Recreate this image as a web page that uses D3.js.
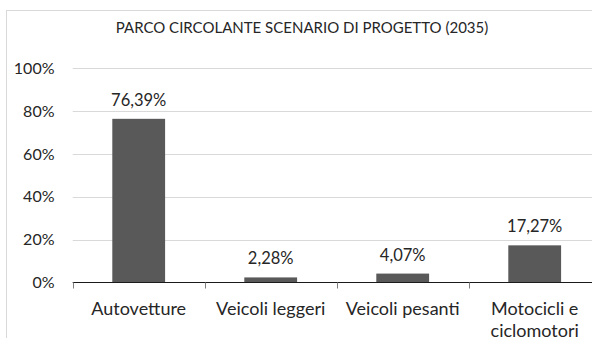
<!DOCTYPE html>
<html>
<head>
<meta charset="utf-8">
<script src="https://cdn.jsdelivr.net/npm/d3@7"></script>
<style>
  html, body { margin: 0; padding: 0; background: #fff; }
  svg { display: block; }
  text { font-family: Lato, "Open Sans", sans-serif; fill: #262626; }
</style>
</head>
<body>
<svg id="chart" width="592" height="338"></svg>
<script>
// Vehicle fleet share by category, project scenario 2035
const categories = ["Autovetture", "Veicoli leggeri", "Veicoli pesanti", "Motocicli e\nciclomotori"];
const shares = [76.39, 2.28, 4.07, 17.27];
const valueLabels = ["76,39%", "2,28%", "4,07%", "17,27%"];
const yTicks = [0, 20, 40, 60, 80, 100];
const yTickLabels = ["0%", "20%", "40%", "60%", "80%", "100%"];
const title = "PARCO CIRCOLANTE SCENARIO DI PROGETTO (2035)";

const svg = d3.select("#chart");
const plot = { left: 72.7, right: 600.7, top: 68.3, bottom: 282.3 };

// chart frame
svg.append("rect")
  .attr("x", 6.5).attr("y", 10.5)
  .attr("width", 620).attr("height", 360)
  .attr("fill", "none").attr("stroke", "#d9d9d9");

const x = d3.scaleBand().domain(categories)
  .range([plot.left, plot.right]).paddingInner(0.6).paddingOuter(0.3);
const xOuter = d3.scaleBand().domain(categories).range([plot.left, plot.right]);
const y = d3.scaleLinear().domain([0, 100]).range([plot.bottom, plot.top]);

// gridlines
svg.append("g").selectAll("line").data(yTicks.filter(t => t > 0)).join("line")
  .attr("x1", plot.left).attr("x2", plot.right)
  .attr("y1", d => Math.round(y(d)) + 0.5).attr("y2", d => Math.round(y(d)) + 0.5)
  .attr("stroke", "#d9d9d9");

// y tick labels
svg.append("g").selectAll("text").data(yTicks).join("text")
  .attr("x", 54.5).attr("y", d => y(d)).attr("dy", "0.36em")
  .attr("text-anchor", "end").attr("font-size", 16)
  .text((d, i) => yTickLabels[i]);

// bars
svg.append("g").selectAll("rect").data(shares).join("rect")
  .attr("x", (d, i) => x(categories[i]))
  .attr("width", x.bandwidth())
  .attr("y", d => y(d))
  .attr("height", d => y(0) - y(d))
  .attr("fill", "#595959");

// value labels
svg.append("g").selectAll("text").data(shares).join("text")
  .attr("x", (d, i) => x(categories[i]) + x.bandwidth() / 2)
  .attr("y", d => y(d) - 13)
  .attr("text-anchor", "middle").attr("font-size", 16.5)
  .text((d, i) => valueLabels[i]);

// category axis with ticks at band boundaries
const axisY = Math.round(y(0)) + 0.5;
svg.append("line")
  .attr("x1", plot.left).attr("x2", plot.right)
  .attr("y1", axisY).attr("y2", axisY)
  .attr("stroke", "#1a1a1a");
const bounds = categories.map(c => xOuter(c)).concat([plot.right]);
svg.append("g").selectAll("line").data(bounds).join("line")
  .attr("x1", d => Math.round(d) + 0.5).attr("x2", d => Math.round(d) + 0.5)
  .attr("y1", axisY).attr("y2", axisY + 6)
  .attr("stroke", "#7f7f7f");

// category labels (multi-line where needed)
const catG = svg.append("g").selectAll("text").data(categories).join("text")
  .attr("x", d => xOuter(d) + xOuter.bandwidth() / 2)
  .attr("y", 315)
  .attr("text-anchor", "middle").attr("font-size", 18);
catG.each(function(d) {
  const t = d3.select(this);
  d.split("\n").forEach((line, i) => {
    t.append("tspan")
      .attr("x", xOuter(d) + xOuter.bandwidth() / 2)
      .attr("dy", i === 0 ? 0 : 21.5)
      .text(line);
  });
});

// title
svg.append("text")
  .attr("x", 302).attr("y", 33.3)
  .attr("text-anchor", "middle").attr("font-size", 15)
  .text(title);
</script>
</body>
</html>
